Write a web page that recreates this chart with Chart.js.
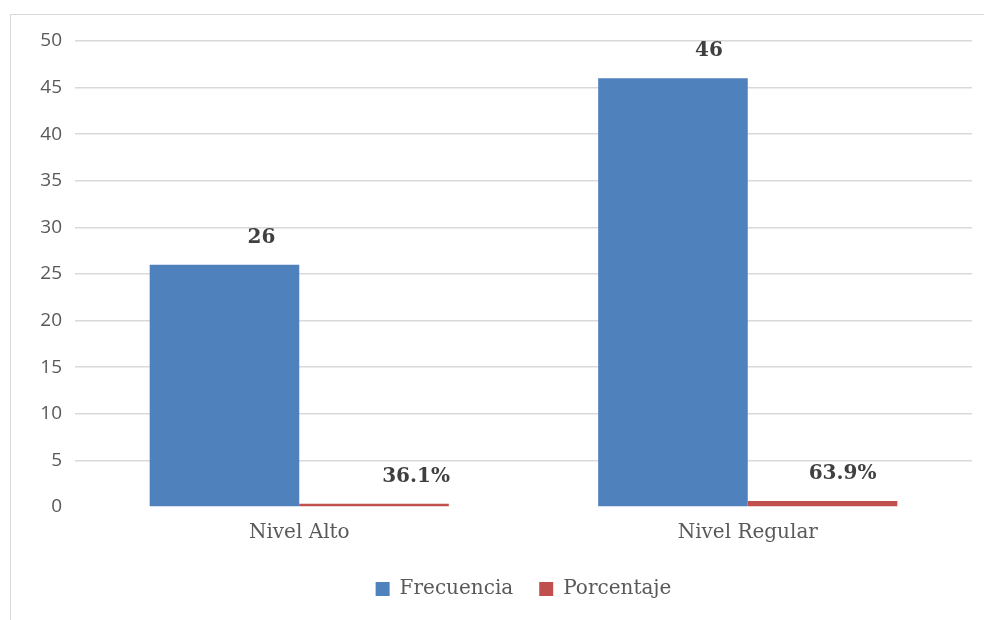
<!DOCTYPE html>
<html lang="es">
<head>
    <meta charset="UTF-8">
    <title>Nivel - Frecuencia y Porcentaje</title>
    <script src="https://cdn.jsdelivr.net/npm/chart.js"></script>
    <style>
        body { margin: 0; background: #fff; overflow: hidden; }
        #wrap {
            position: absolute; left: 10px; top: 14px;
            width: 1030px; height: 620px;
            border: 1px solid #d9d9d9;
        }
    </style>
</head>
<body>
    <div id="wrap"><canvas id="nivelChart" width="1016" height="606"></canvas></div>

    <script>
        const categories = ['Nivel Alto', 'Nivel Regular'];
        const frecuencia = [26, 46];
        const porcentaje = [36.1, 63.9]; // percent, drawn as fraction on same axis
        const yTicks = [0, 5, 10, 15, 20, 25, 30, 35, 40, 45, 50];

        const serif = "'DejaVu Serif', 'Liberation Serif', serif";
        const sans = "'Open Sans', 'Liberation Sans', sans-serif";

        // value labels above bars (Excel put them a bit right of centre)
        const barLabels = {
            id: 'barLabels',
            afterDatasetsDraw(chart) {
                const ctx = chart.ctx;
                ctx.save();
                ctx.font = 'bold 20px ' + serif;
                ctx.fillStyle = '#404040';
                ctx.textAlign = 'center';
                ctx.textBaseline = 'bottom';
                chart.data.datasets.forEach((ds, i) => {
                    chart.getDatasetMeta(i).data.forEach((bar, j) => {
                        ctx.fillText(ds.valueLabels[j], bar.x + ds.labelDx[j], bar.y - 17);
                    });
                });
                ctx.restore();
            }
        };

        // centre the legend under the plot area rather than the canvas
        const legendShift = {
            id: 'legendShift',
            afterLayout(chart) {
                const lg = chart.legend;
                const dx = (chart.chartArea.left + chart.chartArea.right) / 2 - (lg.left + lg.right) / 2;
                lg.left += dx;
                lg.right += dx;
            }
        };

        const ctx = document.getElementById('nivelChart').getContext('2d');
        const chart = new Chart(ctx, {
            type: 'bar',
            data: {
                labels: categories,
                datasets: [{
                    label: 'Frecuencia',
                    data: frecuencia,
                    valueLabels: frecuencia.map(v => String(v)),
                    labelDx: [37, 36],
                    backgroundColor: '#4f81bd',
                    categoryPercentage: 0.667,
                    barPercentage: 1.0,
                }, {
                    label: 'Porcentaje',
                    data: porcentaje.map(v => v / 100),
                    valueLabels: porcentaje.map(v => v.toFixed(1) + '%'),
                    labelDx: [42, 20],
                    backgroundColor: '#c0504d',
                    categoryPercentage: 0.667,
                    barPercentage: 1.0,
                }],
            },
            options: {
                responsive: false,
                animation: false,
                layout: { padding: { top: 26, right: 55, left: 0, bottom: 12 } },
                plugins: {
                    legend: {
                        position: 'bottom',
                        labels: {
                            boxWidth: 14, boxHeight: 14,
                            padding: 26,
                            color: '#595959',
                            font: { family: serif, size: 20 },
                        },
                    },
                    tooltip: { enabled: false },
                },
                scales: {
                    x: {
                        grid: { display: false },
                        border: { display: false },
                        afterFit: (axis) => { axis.height += 2; },
                        ticks: { color: '#595959', font: { family: serif, size: 20 }, padding: 6 },
                    },
                    y: {
                        min: 0, max: 50,
                        afterBuildTicks: (axis) => { axis.ticks = yTicks.map(v => ({ value: v })); },
                        afterFit: (axis) => { axis.width = 64; },
                        border: { display: false },
                        grid: {
                            color: (c) => c.tick.value === 0 ? 'rgba(0,0,0,0)' : '#d9d9d9',
                            lineWidth: 1.5,
                            drawTicks: false,
                        },
                        ticks: { color: '#595959', font: { family: sans, size: 19 }, padding: 13 },
                    },
                },
            },
            plugins: [barLabels, legendShift],
        });
    </script>
</body>
</html>
